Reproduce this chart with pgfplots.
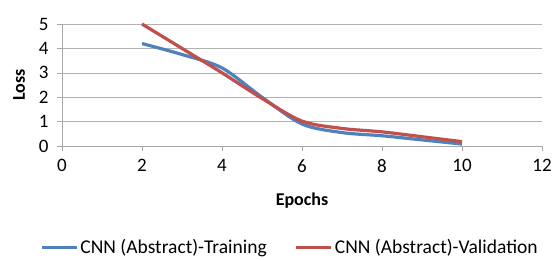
\documentclass[border=0pt]{standalone}
\usepackage{pgfplots}
\pgfplotsset{compat=1.18}
\usepackage{fontspec}
\setmainfont{Carlito}
\definecolor{exblue}{HTML}{4F81BD}
\definecolor{exred}{HTML}{C0504D}
\begin{document}
\begin{tikzpicture}[x=1pt,y=1pt]
\useasboundingbox (-62,-114) rectangle (490,146);
\begin{axis}[
  scale only axis,
  width=480pt, height=122pt,
  xmin=0, xmax=12, ymin=0, ymax=5,
  xtick={0,2,...,12}, ytick={0,1,...,5},
  axis x line=bottom, axis y line=left,
  axis line style={gray!70, -},
  tick style={gray!70, line width=0.6pt},
  xtick align=outside, ytick align=outside,
  major tick length=5pt,
  ymajorgrids, grid style={gray!60, line width=0.6pt},
  tick label style={font=\fontsize{19}{21}\selectfont},
  xticklabel style={yshift=-5pt},
  yticklabel style={xshift=-5pt},
  /pgf/number format/assume math mode=true,
  xlabel={\bfseries Epochs}, ylabel={\bfseries Loss},
  label style={font=\fontsize{18}{20}\selectfont\bfseries},
  xlabel style={yshift=-13pt},
  ylabel style={yshift=7pt},
  legend style={at={(0.475,-0.83)}, anchor=center, draw=none, font=\fontsize{19.5}{21}\selectfont, legend columns=2, /tikz/every even column/.append style={column sep=26pt}},
  legend image code/.code={\draw[#1] (0pt,0pt) -- (35pt,0pt);},
  clip=false,
]
\addplot[exblue, line width=3.2pt, smooth, tension=0.5] coordinates {
(2,4.2) (3,3.75) (4,3.2) (5,2.0) (6,0.9) (7,0.55) (8,0.42) (9,0.25) (10,0.08)};
\addlegendentry{CNN (Abstract)-Training}
\addplot[exred, line width=3.2pt, smooth, tension=0.5] coordinates {
(2,5.0) (3,4.0) (4,3.0) (5,1.95) (6,1.02) (7,0.72) (8,0.58) (9,0.38) (10,0.18)};
\addlegendentry{CNN (Abstract)-Validation}
\end{axis}
\end{tikzpicture}
\end{document}
